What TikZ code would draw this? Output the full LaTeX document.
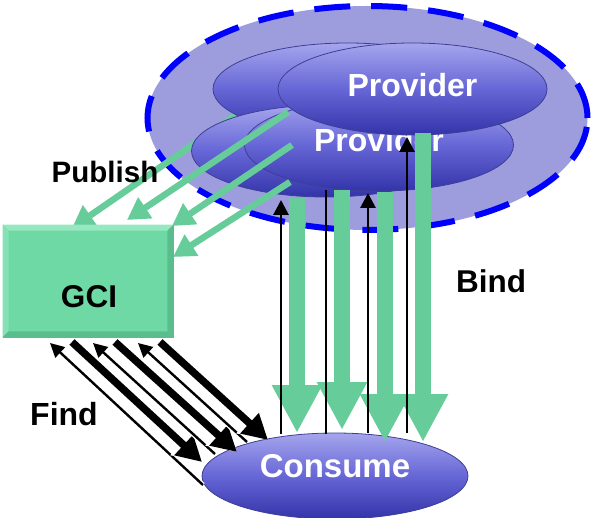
\documentclass[tikz,border=0pt]{standalone}
\usepackage{fontspec}
\setmainfont{Liberation Sans}
\usetikzlibrary{arrows.meta,shapes.geometric,calc}
\definecolor{lav}{RGB}{157,157,222}
\definecolor{dashblue}{RGB}{0,0,255}
\definecolor{grn}{RGB}{102,204,153}
\definecolor{gcifill}{RGB}{111,217,165}
\definecolor{gcilight}{RGB}{150,232,192}
\definecolor{gcidark}{RGB}{90,190,140}
\definecolor{elltop}{RGB}{165,165,238}
\definecolor{ellmid}{RGB}{102,102,214}
\definecolor{ellbot}{RGB}{52,52,170}
\definecolor{elledge}{RGB}{62,62,150}
\begin{document}
\begin{tikzpicture}[x=1pt,y=-1pt,
  provell/.style={ellipse, minimum width=269pt, minimum height=92pt, inner sep=0pt,
    top color=elltop, bottom color=ellbot, middle color=ellmid, draw=elledge, line width=0.8pt},
  lbl/.style={font=\fontsize{31.5pt}{38pt}\selectfont\bfseries, inner sep=0pt, anchor=base},
  wlbl/.style={font=\fontsize{32pt}{38pt}\selectfont\bfseries, inner sep=0pt, anchor=base, text=white},
  pub/.style={draw=grn, line width=6.5pt, -{Triangle[length=22pt,width=24pt]}},
  bindarr/.style={draw=grn, line width=16pt, -{Triangle[length=48pt,width=47pt]}},
  upk/.style={draw=black, line width=2.8pt, -{Triangle[length=15pt,width=15pt]}},
  plaink/.style={draw=black, line width=2.8pt},
  findthin/.style={draw=black, line width=2.4pt, -{Triangle[length=14pt,width=14pt]},
    preaction={draw=white, line width=5pt, -{Triangle[length=16pt,width=19pt]}}},
  findthick/.style={draw=black, line width=7.5pt, -{Triangle[length=25pt,width=26pt]},
    preaction={draw=white, line width=10.5pt, -{Triangle[length=28pt,width=31pt]}}}
]
\useasboundingbox (0,0) rectangle (594,518);

% group of providers
\node[ellipse, minimum width=440pt, minimum height=224pt, inner sep=0pt,
  fill=lav, draw=dashblue, line width=6pt, dash pattern=on 36pt off 21pt] (group) at (367.5,118) {};

% hidden publish arrow (behind the back providers)
\coordinate (p1s) at (262,97);
\coordinate (p1e) at (72,228);
\draw[pub] (p1s) -- (p1e);

% provider ellipses
\node[provell] (provA) at (347.5,89) {};
\node[provell] (provB) at (326,151) {};
\node[provell] (provC) at (379,145) {};
\node[wlbl] (provCtext) at (379,152) {Provider};
\node[provell] (provD) at (412.5,89) {};
\node[wlbl] (provDtext) at (412.5,97) {Provider};

% GCI box
\node[rectangle, minimum width=170pt, minimum height=112pt, inner sep=0pt,
  fill=gcifill, draw=gcidark, line width=0.8pt] (gci) at (88,281) {};
\fill[gcilight] (gci.north west) -- (gci.north east) -- ($(gci.north east)+(-6,6)$) -- ($(gci.north west)+(6,6)$) -- cycle;
\fill[gcilight!60!gcifill] (gci.north west) -- ($(gci.north west)+(6,6)$) -- ($(gci.south west)+(6,-6)$) -- (gci.south west) -- cycle;
\fill[gcidark] (gci.north east) -- (gci.south east) -- ($(gci.south east)+(-6,-6)$) -- ($(gci.north east)+(-6,6)$) -- cycle;
\fill[gcidark] (gci.south west) -- (gci.south east) -- ($(gci.south east)+(-6,-6)$) -- ($(gci.south west)+(6,-6)$) -- cycle;
\node[lbl] (gcitext) at (89,308) {GCI};

% publish arrows
\coordinate (p2s) at (288,112); \coordinate (p2e) at (127,220);
\coordinate (p3s) at (292,145); \coordinate (p3e) at (172,226);
\coordinate (p4s) at (290,182); \coordinate (p4e) at (173,257);
\draw[pub] (p2s) -- (p2e);
\draw[pub] (p3s) -- (p3e);
\draw[pub] (p4s) -- (p4e);

% consume
\node[ellipse, minimum width=266pt, minimum height=86pt, inner sep=0pt,
  top color=elltop, bottom color=ellbot, middle color=ellmid, draw=elledge, line width=0.8pt] (cons) at (335,476) {};
\node[wlbl, font=\fontsize{33pt}{39pt}\selectfont\bfseries] (constext) at (335,477) {Consume};

% bind arrows
\coordinate (b1s) at (297,198); \coordinate (b1e) at (297,433);
\coordinate (b2s) at (342,190); \coordinate (b2e) at (342,430);
\coordinate (b3s) at (385,192); \coordinate (b3e) at (385,442);
\coordinate (b4s) at (423,133); \coordinate (b4e) at (423,442);
\draw[bindarr] (b1s) -- (b1e);
\draw[bindarr] (b2s) -- (b2e);
\draw[bindarr] (b3s) -- (b3e);
\draw[bindarr] (b4s) -- (b4e);

% black vertical arrows
\coordinate (k1s) at (281,434); \coordinate (k1e) at (281,200);
\coordinate (k2s) at (326,434); \coordinate (k2e) at (326,190);
\coordinate (k3s) at (368,433); \coordinate (k3e) at (368,193);
\coordinate (k4s) at (407,433); \coordinate (k4e) at (407,137);
\draw[upk] (k1s) -- (k1e);
\draw[plaink] (k2s) -- (k2e);
\draw[upk] (k3s) -- (k3e);
\draw[upk] (k4s) -- (k4e);

% find arrows
\coordinate (f1s) at (203,485); \coordinate (f1e) at (50,343);
\coordinate (f2s) at (72,342);  \coordinate (f2e) at (202,462);
\coordinate (f3s) at (215,454); \coordinate (f3e) at (93,343);
\coordinate (f4s) at (115,342); \coordinate (f4e) at (237,452);
\coordinate (f5s) at (247,442); \coordinate (f5e) at (138,343);
\coordinate (f6s) at (160,342); \coordinate (f6e) at (268,440);
\draw[findthin] (f1s) -- (f1e);
\draw[findthick] (f2s) -- (f2e);
\draw[findthin] (f3s) -- (f3e);
\draw[findthick] (f4s) -- (f4e);
\draw[findthin] (f5s) -- (f5e);
\draw[findthick] (f6s) -- (f6e);

% labels
\node[lbl, font=\fontsize{29.5pt}{36pt}\selectfont\bfseries] (publish) at (105,182.5) {Publish};
\node[lbl, font=\fontsize{32pt}{38pt}\selectfont\bfseries] (find) at (64,425) {Find};
\node[lbl] (bind) at (491,293) {Bind};
\end{tikzpicture}
\end{document}
